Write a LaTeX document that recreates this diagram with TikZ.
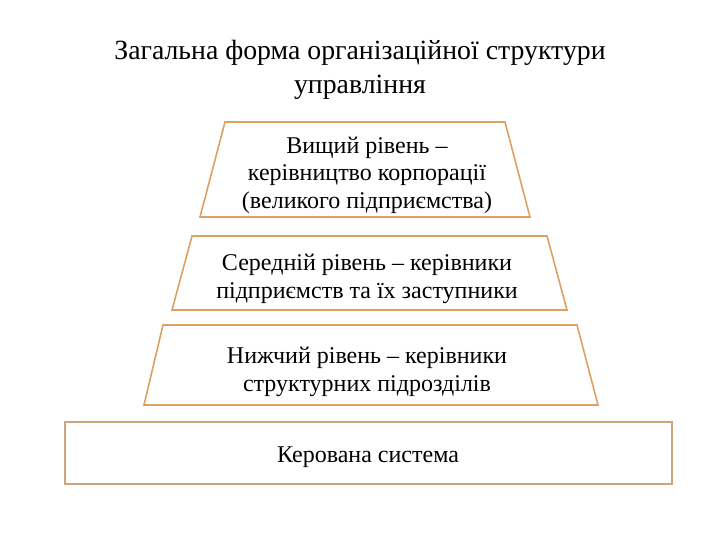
\documentclass[tikz,border=0pt]{standalone}
\usepackage{fontspec}
\setmainfont{Liberation Serif}
\begin{document}
\begin{tikzpicture}[x=1pt,y=-1pt]
\definecolor{edge}{RGB}{222,160,100}
\definecolor{edgetwo}{RGB}{205,165,125}
\tikzset{
  level/.style={draw=edge, line width=1.6pt, line join=miter, fill=white},
  base/.style={draw=edgetwo, line width=1.6pt, fill=white},
  boxtext/.style={align=center, inner sep=0pt, font=\fontsize{24}{27.5}\selectfont},
  titletext/.style={align=center, inner sep=0pt, font=\fontsize{27.8}{34.5}\selectfont}
}
\useasboundingbox (0,0) rectangle (720,540);
\node[titletext] (title) at (360,70) {Загальна форма організаційної структури\\управління};
\draw[level] (225,122) -- (505,122) -- (530,217) -- (200,217) -- cycle;
\node[boxtext] (top) at (367,175) {Вищий рівень –\\керівництво корпорації\\(великого підприємства)};
\draw[level] (192,236) -- (547,236) -- (567,310) -- (172,310) -- cycle;
\node[boxtext] (mid) at (367,279) {Середній рівень – керівники\\підприємств та їх заступники};
\draw[level] (163,325) -- (577,325) -- (598,405) -- (144,405) -- cycle;
\node[boxtext] (low) at (367,372) {Нижчий рівень – керівники\\структурних підрозділів};
\draw[base] (65,422) rectangle (672,484);
\node[boxtext] (sys) at (368,457) {Керована система};
\end{tikzpicture}
\end{document}
